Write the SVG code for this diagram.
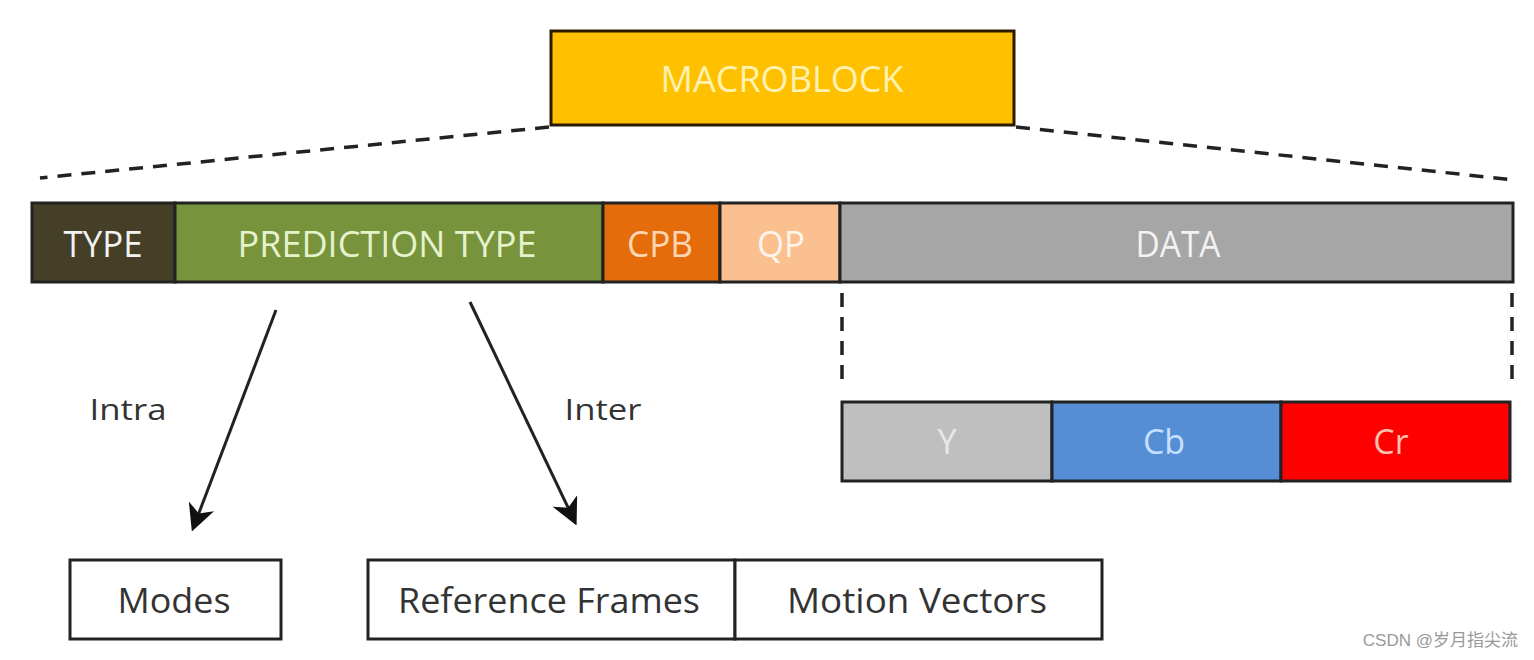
<svg xmlns="http://www.w3.org/2000/svg" width="1534" height="660" viewBox="0 0 1534 660">
<style>
.lbl{font-family:"Open Sans","Liberation Sans",sans-serif;text-anchor:middle;dominant-baseline:central}
.seg{stroke:#222;stroke-width:3}
.dash{stroke:#222;stroke-width:3.5;stroke-dasharray:14 10;fill:none}
.box{fill:#fff;stroke:#222;stroke-width:3}
</style>
<defs>
<marker id="ah" markerWidth="9" markerHeight="9" refX="7" refY="4.5" orient="auto" markerUnits="strokeWidth">
<path d="M0,0 L9,4.5 L0,9 L2.5,4.5 Z" fill="#111"/>
</marker>
</defs>
<rect width="1534" height="660" fill="#fff"/>

<g id="macroblock">
<rect x="551" y="31" width="463" height="94" fill="#FFC000" stroke="#2a1a00" stroke-width="3"/>
<text class="lbl" x="782" y="78" font-size="36" fill="#FFF2B0" textLength="243" lengthAdjust="spacingAndGlyphs">MACROBLOCK</text>
</g>

<g id="connectors">
<line class="dash" x1="549" y1="127" x2="40" y2="178"/>
<line class="dash" x1="1016" y1="127" x2="1515" y2="180"/>
<line class="dash" x1="842" y1="293" x2="842" y2="385" stroke-dasharray="14 16"/>
<line class="dash" x1="1512" y1="293" x2="1512" y2="385" stroke-dasharray="14 16"/>
<line x1="276" y1="310" x2="194" y2="526" stroke="#222" stroke-width="3" marker-end="url(#ah)"/>
<line x1="470" y1="302" x2="574" y2="520" stroke="#222" stroke-width="3" marker-end="url(#ah)"/>
</g>

<g id="type">
<rect class="seg" x="32" y="203" width="143" height="79" fill="#443F26"/>
<text class="lbl" x="103" y="243" font-size="36" fill="#F2F2F2" textLength="79" lengthAdjust="spacingAndGlyphs">TYPE</text>
</g>
<g id="prediction-type">
<rect class="seg" x="175" y="203" width="428" height="79" fill="#77933C"/>
<text class="lbl" x="387" y="243" font-size="36" fill="#E6F2CC" textLength="299" lengthAdjust="spacingAndGlyphs">PREDICTION TYPE</text>
</g>
<g id="cpb">
<rect class="seg" x="603" y="203" width="117" height="79" fill="#E46C0A"/>
<text class="lbl" x="660" y="243" font-size="36" fill="#FCD5B4" textLength="66" lengthAdjust="spacingAndGlyphs">CPB</text>
</g>
<g id="qp">
<rect class="seg" x="720" y="203" width="120" height="79" fill="#FAC090"/>
<text class="lbl" x="781" y="243" font-size="36" fill="#FFF4EA" textLength="48" lengthAdjust="spacingAndGlyphs">QP</text>
</g>
<g id="data">
<rect class="seg" x="840" y="203" width="673" height="79" fill="#A6A6A6"/>
<text class="lbl" x="1178" y="243" font-size="36" fill="#F2F2F2" textLength="85" lengthAdjust="spacingAndGlyphs">DATA</text>
</g>

<g id="y">
<rect class="seg" x="842" y="402" width="210" height="79" fill="#BFBFBF"/>
<text class="lbl" x="947" y="441" font-size="34" fill="#E8E8E8">Y</text>
</g>
<g id="cb">
<rect class="seg" x="1052" y="402" width="229" height="79" fill="#558ED5"/>
<text class="lbl" x="1164" y="441" font-size="34" fill="#C6E0FF">Cb</text>
</g>
<g id="cr">
<rect class="seg" x="1281" y="402" width="229" height="79" fill="#FF0000"/>
<text class="lbl" x="1391" y="441" font-size="34" fill="#FFC0B0">Cr</text>
</g>

<g id="intra-label">
<text class="lbl" x="128" y="408" font-size="30" fill="#333" textLength="77" lengthAdjust="spacingAndGlyphs">Intra</text>
</g>
<g id="inter-label">
<text class="lbl" x="603" y="408" font-size="30" fill="#333" textLength="77" lengthAdjust="spacingAndGlyphs">Inter</text>
</g>

<g id="modes">
<rect class="box" x="70" y="560" width="211" height="79"/>
<text class="lbl" x="174" y="600" font-size="34" fill="#333" textLength="113" lengthAdjust="spacingAndGlyphs">Modes</text>
</g>
<g id="reference-frames">
<rect class="box" x="368" y="560" width="367" height="79"/>
<text class="lbl" x="549" y="600" font-size="34" fill="#333" textLength="302" lengthAdjust="spacingAndGlyphs">Reference Frames</text>
</g>
<g id="motion-vectors">
<rect class="box" x="735" y="560" width="367" height="79"/>
<text class="lbl" x="917" y="600" font-size="34" fill="#333" textLength="260" lengthAdjust="spacingAndGlyphs">Motion Vectors</text>
</g>

<text x="1518" y="640" font-family="'Liberation Sans','Noto Sans CJK SC',sans-serif" font-size="17" fill="#999" text-anchor="end" dominant-baseline="central">CSDN @岁月指尖流</text>
</svg>
